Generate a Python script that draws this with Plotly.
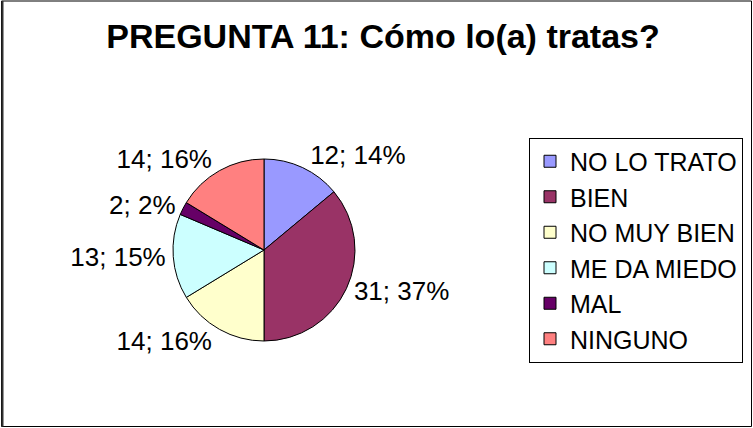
import plotly.graph_objects as go

# Data
categories = ["NO LO TRATO", "BIEN", "NO MUY BIEN", "ME DA MIEDO", "MAL", "NINGUNO"]
values = [12, 31, 14, 13, 2, 14]
percent_labels = [14, 37, 16, 15, 2, 16]
colors = ["#9999FF", "#993366", "#FFFFCC", "#CCFFFF", "#660066", "#FF8080"]
title_text = "PREGUNTA 11: Cómo lo(a) tratas?"

W, H = 753, 428
FONT = "Arial, Liberation Sans, sans-serif"

texts = [f"{v}; {p}%" for v, p in zip(values, percent_labels)]

fig = go.Figure(
    go.Pie(
        labels=categories,
        values=values,
        text=texts,
        textinfo="text",
        textposition="outside",
        sort=False,
        direction="clockwise",
        rotation=0,
        marker=dict(colors=colors, line=dict(color="black", width=1)),
        textfont=dict(family=FONT, size=26, color="black"),
        domain=dict(x=[173 / W, 355 / W], y=[1 - 341 / H, 1 - 159 / H]),
        hoverinfo="label+value+percent",
    )
)

fig.update_layout(
    width=W,
    height=H,
    margin=dict(l=0, r=0, t=0, b=0),
    paper_bgcolor="white",
    plot_bgcolor="white",
    font=dict(family=FONT, color="black"),
    title=dict(
        text="<b>" + title_text + "</b>",
        font=dict(family=FONT, size=34, color="black"),
        x=383 / W,
        xanchor="center",
        y=1 - 36 / H,
        yanchor="middle",
        xref="paper",
        yref="paper",
    ),
    showlegend=True,
    legend=dict(
        x=529 / W,
        y=1 - 250 / H,
        xanchor="left",
        yanchor="middle",
        bordercolor="black",
        borderwidth=1,
        bgcolor="white",
        font=dict(family=FONT, size=25, color="black"),
        itemclick=False,
        itemdoubleclick=False,
    ),
    shapes=[
        dict(
            type="rect",
            xref="paper",
            yref="paper",
            x0=1.5 / W,
            x1=751.5 / W,
            y0=1 - 426.5 / H,
            y1=1 - 1 / H,
            line=dict(color="black", width=1),
            fillcolor="rgba(0,0,0,0)",
        ),
        dict(
            type="line",
            xref="paper",
            yref="paper",
            x0=2.5 / W,
            x1=2.5 / W,
            y0=1 - 426.5 / H,
            y1=1 - 1 / H,
            line=dict(color="#333333", width=2),
        ),
    ],
)

fig.write_html(
    "out.html",
    config={"displayModeBar": False},
    post_script="document.body.style.margin='0';document.body.style.padding='0';document.body.style.overflow='hidden';",
)
